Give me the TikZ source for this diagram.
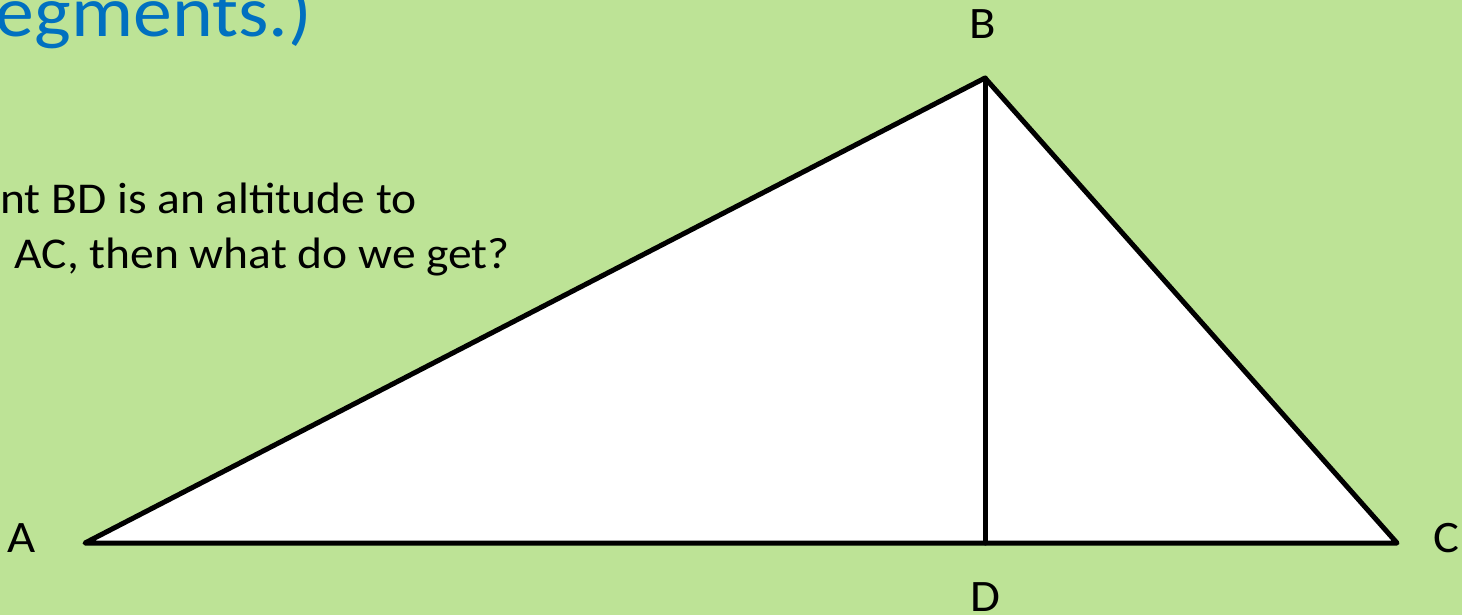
\documentclass[tikz,border=0pt]{standalone}
\usepackage{fontspec}
\setmainfont{Carlito}[FakeStretch=1.08]
\definecolor{bggreen}{RGB}{189,227,150}
\definecolor{titleblue}{RGB}{0,112,192}
\begin{document}
\begin{tikzpicture}[x=1pt,y=-1pt,
  lbl/.style={font=\fontsize{45}{54}\selectfont, inner sep=0pt},
  body/.style={font=\fontsize{44}{53}\selectfont, inner sep=0pt, anchor=base east},
  edge/.style={line width=5pt, line join=round, line cap=round}]
\fill[bggreen] (0,0) rectangle (1462,615);
\useasboundingbox (0,0) rectangle (1462,615);
\node[font=\fontsize{72}{80}\selectfont, text=titleblue, inner sep=0pt, anchor=base east] (title) at (312,37) {egments.)};
\node[body] (t1) at (417,213) {nt BD is an altitude to};
\node[body] (t2) at (510,268) {AC, then what do we get?};
\coordinate (A) at (85,543);
\coordinate (B) at (985,78);
\coordinate (C) at (1397,543);
\coordinate (D) at (985,543);
\fill[white] (A) -- (B) -- (C) -- cycle;
\draw[edge] (A) -- (B) -- (C) -- cycle;
\draw[edge] (B) -- (D);
\node[lbl] (lA) at (22,538) {A};
\node[lbl] (lB) at (983,24) {B};
\node[lbl] (lC) at (1446,538) {C};
\node[lbl] (lD) at (985,597) {D};
\end{tikzpicture}
\end{document}
